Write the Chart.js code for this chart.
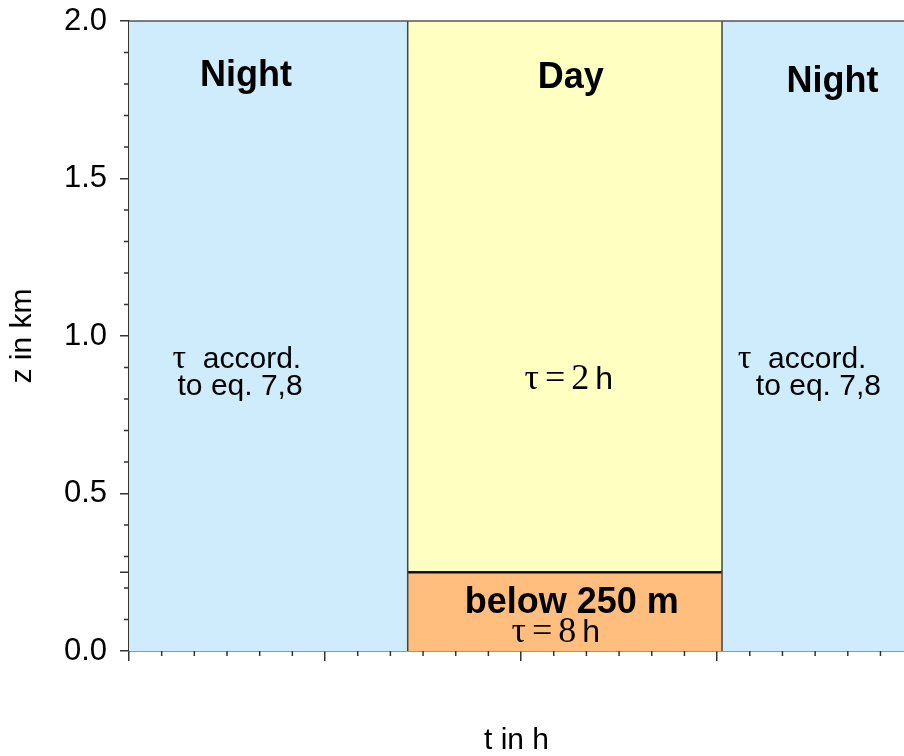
<!DOCTYPE html>
<html>
<head>
<meta charset="utf-8">
<script src="https://cdn.jsdelivr.net/npm/chart.js@4/dist/chart.umd.min.js"></script>
<style>
html,body{margin:0;padding:0;background:#fff;}
#wrap{width:904px;height:756px;}
</style>
</head>
<body>
<div id="wrap"><canvas id="c" width="904" height="756"></canvas></div>
<script>
// ---- data ----
const xMin = 0, xMax = 23.72;          // t in h
const yMin = 0, yMax = 2.0;            // z in km
const dayStart = 8.53, dayEnd = 18.15; // day period (h)
const lowLayerTop = 0.25;              // 250 m
const xMajorTicks = [0, 6, 12, 18];
const xMinorTicks = [1,2,3,4,5,7,8,9,10,11,13,14,15,16,17,19,20,21,22,23];
const yMajorTicks = [0.0, 0.5, 1.0, 1.5, 2.0];
const yMinorTicks = [0.1,0.2,0.3,0.4,0.6,0.7,0.8,0.9,1.1,1.2,1.3,1.4,1.6,1.7,1.8,1.9];
const yExtraTicks = [0.25];
const labelTexts = ["Night","Day","Night","τ  accord.","to eq. 7,8","τ  accord.","to eq. 7,8","τ = 2 h","below 250 m","τ = 8 h"];
const labelX = [3.58, 13.52, 21.53, 3.3, 3.4, 20.6, 21.1, 13.46, 13.55, 13.06];
const labelY = [1.794, 1.787, 1.775, 0.898, 0.813, 0.898, 0.813, 0.832, 0.122, 0.03];
const labelBold = [true,true,true,false,false,false,false,false,true,false];

const NIGHT = '#CFECFD', DAY = '#FFFFC2', LOW = '#FFBE7E';

const lineDS = (pts, color, w) => ({type:'line', data:pts, borderColor:color, borderWidth:w, pointRadius:0, fill:false, clip:false});
const fillDS = (pts, bg, fill) => ({type:'line', data:pts, backgroundColor:bg, borderWidth:0, borderColor:'rgba(0,0,0,0)', pointRadius:0, fill:fill, clip:false});

const datasets = [
  lineDS([{x:xMin,y:yMax},{x:xMax,y:yMax}], '#555', 1.5),
  lineDS([{x:dayStart,y:yMin},{x:dayStart,y:yMax}], '#444', 1.5),
  lineDS([{x:dayEnd,y:yMin},{x:dayEnd,y:yMax}], '#444', 1.5),
  lineDS([{x:dayStart,y:lowLayerTop},{x:dayEnd,y:lowLayerTop}], '#111', 2.5),
  fillDS([{x:dayStart,y:lowLayerTop},{x:dayEnd,y:lowLayerTop}], LOW, 'origin'),
  fillDS([{x:dayStart,y:yMax},{x:dayEnd,y:yMax}], DAY, {value:lowLayerTop}),
  fillDS([{x:xMin,y:yMax},{x:dayStart,y:yMax}], NIGHT, 'origin'),
  fillDS([{x:dayEnd,y:yMax},{x:xMax,y:yMax}], NIGHT, 'origin'),
];

const AXIS = '#333';
const SANS = '"Liberation Sans", Arial, sans-serif';
const SERIF = '"Liberation Serif", "Times New Roman", serif';

const extras = {
  id:'extras',
  afterDraw(chart){
    const ctx = chart.ctx, xs = chart.scales.x, ys = chart.scales.y;
    const a = chart.chartArea;
    ctx.save();
    ctx.strokeStyle = AXIS; ctx.lineWidth = 1.5;
    ctx.beginPath();
    yMinorTicks.forEach(v=>{const p=ys.getPixelForValue(v); ctx.moveTo(a.left-5,p); ctx.lineTo(a.left,p);});
    yExtraTicks.forEach(v=>{const p=ys.getPixelForValue(v); ctx.moveTo(a.left-9,p); ctx.lineTo(a.left,p);});
    xMinorTicks.forEach(v=>{const p=xs.getPixelForValue(v); ctx.moveTo(p,a.bottom); ctx.lineTo(p,a.bottom+5);});
    ctx.stroke();
    ctx.fillStyle = '#000';
    ctx.textBaseline = 'alphabetic';
    labelTexts.forEach((t,i)=>{
      const cx = xs.getPixelForValue(labelX[i]), cy = ys.getPixelForValue(labelY[i]);
      let runs;
      if (labelBold[i]) runs = [[t, 'bold 36px ' + SANS]];
      else if (t.startsWith('τ = ')) {
        const parts = t.split(' ');
        runs = [['τ', '36px ' + SERIF], [' ', '24px ' + SERIF], ['=', '36px ' + SERIF], [' ', '24px ' + SERIF], [parts[2], '36px ' + SERIF], [' ', '24px ' + SERIF], [parts[3], '32px ' + SANS]];
      }
      else if (t.startsWith('τ')) runs = [['τ', '34px ' + SERIF], [t.slice(1), '30px ' + SANS]];
      else runs = [[t, '30px ' + SANS]];
      let w = 0; runs.forEach(r=>{ctx.font=r[1]; w+=ctx.measureText(r[0]).width;});
      let x = cx - w/2;
      ctx.textAlign = 'left';
      runs.forEach(r=>{ctx.font=r[1]; ctx.fillText(r[0], x, cy); x+=ctx.measureText(r[0]).width;});
    });
    ctx.restore();
  }
};

new Chart(document.getElementById('c'), {
  type:'line',
  data:{datasets},
  options:{
    responsive:false, animation:false,
    layout:{padding:{top:21,right:0,left:0,bottom:0}},
    plugins:{legend:{display:false}, tooltip:{enabled:false}},
    scales:{
      x:{type:'linear', min:xMin, max:xMax, z:1,
        afterBuildTicks(s){ s.ticks = xMajorTicks.map(v=>({value:v})); },
        afterFit(s){ s.height = 105; s.paddingLeft = 0; s.paddingRight = 0; },
        ticks:{display:false},
        grid:{drawOnChartArea:false, drawTicks:true, tickLength:10, color:AXIS, lineWidth:1.5},
        border:{display:true, color:AXIS, width:1.5},
        title:{display:true, text:'t in h', color:'#000', font:{family:SANS, size:30, lineHeight:1}, padding:{top:0,bottom:0}}
      },
      y:{type:'linear', min:yMin, max:yMax, z:1,
        afterBuildTicks(s){ s.ticks = yMajorTicks.map(v=>({value:v})); },
        afterFit(s){ s.width = 129; s.paddingTop = 0; s.paddingBottom = 0; },
        ticks:{color:'#000', padding:13, font:{family:SANS, size:31}, callback:v=>Number(v).toFixed(1)},
        grid:{drawOnChartArea:false, drawTicks:true, tickLength:9, color:AXIS, lineWidth:1.5},
        border:{display:true, color:AXIS, width:1.5},
        title:{display:true, text:'z in km', color:'#000', font:{family:SANS, size:30, lineHeight:1}, padding:{top:8,bottom:0}}
      }
    }
  },
  plugins:[extras]
});
</script>
</body>
</html>
